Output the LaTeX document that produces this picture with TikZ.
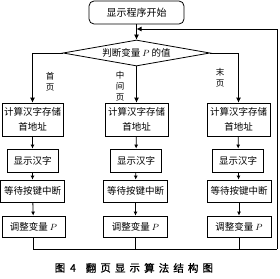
\documentclass[tikz,border=0pt]{standalone}
\usepackage{fontspec}
\setmainfont{Noto Sans CJK SC}
\newfontfamily\capfont[FakeBold=1]{Noto Sans CJK SC}
\usetikzlibrary{shapes.geometric,arrows.meta}
\begin{document}
\begin{tikzpicture}[x=1pt,y=-1pt, line width=0.8pt,
  box/.style={draw, inner sep=0pt, minimum width=#1, align=center,
    font=\fontsize{9.5}{15}\selectfont},
  lab/.style={inner sep=0pt, align=center, font=\fontsize{8.5}{11}\selectfont},
  capc/.style={inner sep=0pt, font=\capfont\fontsize{10.5}{12}\selectfont},
  arr/.style={-{Latex[length=5pt,width=5pt]}},
  sarr/.style={-{Latex[length=4pt,width=4pt]}}]
\useasboundingbox (0,0) rectangle (280,278);
% start
\node[box=95pt, minimum height=23pt, rounded corners=5pt, font=\fontsize{10}{12}\selectfont] (top) at (136.5,12.5) {显示程序开始};
\node[draw, diamond, inner sep=0pt, aspect=5.65, minimum width=147pt, minimum height=26pt, font=\fontsize{9.5}{12}\selectfont] (dia) at (136.5,53) {判断变量 $P$ 的值};
% row 1
\node[box=61pt, minimum height=33pt] (a1) at (32.5,119.5) {计算汉字存储\\首地址};
\node[box=63pt, minimum height=33pt] (b1) at (136.5,119.5) {计算汉字存储\\首地址};
\node[box=63pt, minimum height=33pt] (c1) at (238.5,119.5) {计算汉字存储\\首地址};
% row 2
\node[box=51pt, minimum height=23pt] (a2) at (32.5,160.5) {显示汉字};
\node[box=51pt, minimum height=23pt] (b2) at (136,160.5) {显示汉字};
\node[box=51pt, minimum height=23pt] (c2) at (238,160.5) {显示汉字};
% row 3
\node[box=64pt, minimum height=22pt] (a3) at (32.5,191) {等待按键中断};
\node[box=64pt, minimum height=22pt] (b3) at (135.5,191) {等待按键中断};
\node[box=64pt, minimum height=22pt] (c3) at (239,191) {等待按键中断};
% row 4
\node[box=63pt, minimum height=21pt] (a4) at (33.5,226.5) {调整变量 $P$};
\node[box=64pt, minimum height=21pt] (b4) at (135.5,226.5) {调整变量 $P$};
\node[box=64pt, minimum height=21pt] (c4) at (239,226.5) {调整变量 $P$};
% labels
\node[lab] (l1) at (50,82) {首\\页};
\node[lab] (l2) at (120,86) {中\\间\\页};
\node[lab] (l3) at (220,78) {末\\页};
% coordinates for loop
\coordinate (br) at (277,249);
\coordinate (tr) at (277,29);
% connectors
\draw[arr] (top) -- (dia.north);
\draw[arr] (dia.west) -| (a1.north);
\draw[arr] (dia.south) -- (b1.north);
\draw[arr] (dia.east) -| (c1.north);
\draw[sarr] (a1) -- (a2);
\draw[sarr] (a2) -- (a3);
\draw[sarr] (a3) -- (a4);
\draw[sarr] (b1) -- (b2);
\draw[sarr] (b2) -- (b3);
\draw[sarr] (b3) -- (b4);
\draw[sarr] (c1) -- (c2);
\draw[sarr] (c2) -- (c3);
\draw[sarr] (c3) -- (c4);
\draw (a4.south) |- (br);
\draw (b4.south) -- (b4.south |- br);
\draw (c4.south) -- (c4.south |- br);
\draw[arr] (br) -- (tr) -- (top.south |- tr);
% caption
\node[capc] (capfig) at (60,268) {图};
\node[capc] (capnum) at (73,268) {4};
\foreach \ch [count=\i from 0] in {翻,页,显,示,算,法,结,构,图}
  \node[capc] (cap\i) at (91+14.6*\i,268) {\ch};
\end{tikzpicture}
\end{document}
